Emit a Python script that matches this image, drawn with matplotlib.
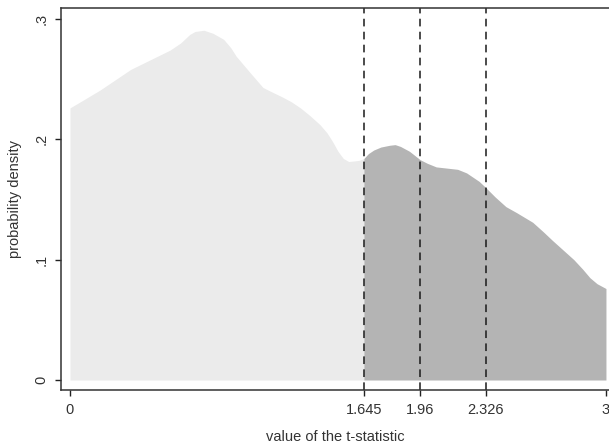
import numpy as np
import matplotlib.pyplot as plt

plt.rcParams['font.family'] = ['Liberation Sans', 'DejaVu Sans']
plt.rcParams['font.size'] = 10.5

# density estimate
t_values = [0.0, 0.08, 0.17, 0.26, 0.34, 0.45, 0.56, 0.62, 0.67, 0.70, 0.75, 0.80,
            0.83, 0.86, 0.90, 0.93, 0.97, 1.01, 1.08, 1.12, 1.19, 1.24, 1.29, 1.34,
            1.40, 1.44, 1.47, 1.50, 1.53, 1.56, 1.595, 1.62, 1.645, 1.67, 1.70,
            1.74, 1.79, 1.82, 1.85, 1.90, 1.96, 2.00, 2.05, 2.11, 2.17, 2.22,
            2.26, 2.29, 2.326, 2.38, 2.44, 2.50, 2.59, 2.65, 2.70, 2.76, 2.82,
            2.87, 2.91, 2.95, 3.0]
density = [0.226, 0.233, 0.241, 0.250, 0.258, 0.266, 0.274, 0.280, 0.287, 0.2895,
           0.2905, 0.288, 0.2855, 0.283, 0.276, 0.269, 0.262, 0.255, 0.243, 0.240,
           0.235, 0.231, 0.226, 0.220, 0.212, 0.205, 0.198, 0.190, 0.184, 0.1815,
           0.182, 0.1825, 0.184, 0.188, 0.191, 0.1935, 0.195, 0.1955, 0.194, 0.190,
           0.183, 0.180, 0.177, 0.176, 0.175, 0.172, 0.168, 0.165, 0.160, 0.152,
           0.144, 0.139, 0.131, 0.123, 0.116, 0.108, 0.100, 0.092, 0.085, 0.080,
           0.076]
critical = [1.645, 1.96, 2.326]
xtick_vals = [0, 1.645, 1.96, 2.326, 3]
xtick_labels = ['0', '1.645', '1.96', '2.326', '3']
ytick_vals = [0, 0.1, 0.2, 0.3]
ytick_labels = ['0', '.1', '.2', '.3']

x = np.array(t_values)
y = np.array(density)

fig = plt.figure(figsize=(6.09, 4.44), dpi=100)
ax = fig.add_axes([0.1002, 0.1216, 0.8998, 0.8604])

left = x <= critical[0]
right = x >= critical[0]
ax.fill_between(x[left], 0, y[left], color='#ebebeb', linewidth=0)
ax.fill_between(x[right], 0, y[right], color='#b4b4b4', linewidth=0)

for c in critical:
    ax.axvline(c, color='#1a1a1a', linestyle=(0, (5, 3.5)), linewidth=1.1)

ax.set_xlim(-0.05, 3.017)
ax.set_ylim(-0.0083, 0.309)

ax.set_xticks(xtick_vals)
ax.set_xticklabels(xtick_labels)
ax.set_yticks(ytick_vals)
ax.set_yticklabels(ytick_labels, rotation=90, va='center')
ax.tick_params(direction='out', length=4, width=1, colors='#222222', labelcolor='#333333', pad=5)

ax.spines['right'].set_visible(False)
for s in ['left', 'top', 'bottom']:
    ax.spines[s].set_color('#333333')
    ax.spines[s].set_linewidth(1.1)

ax.set_xlabel('value of the t-statistic', color='#333333', labelpad=10)
ax.set_ylabel('probability density', color='#333333', labelpad=9)

fig.savefig('out.png', dpi=100)
